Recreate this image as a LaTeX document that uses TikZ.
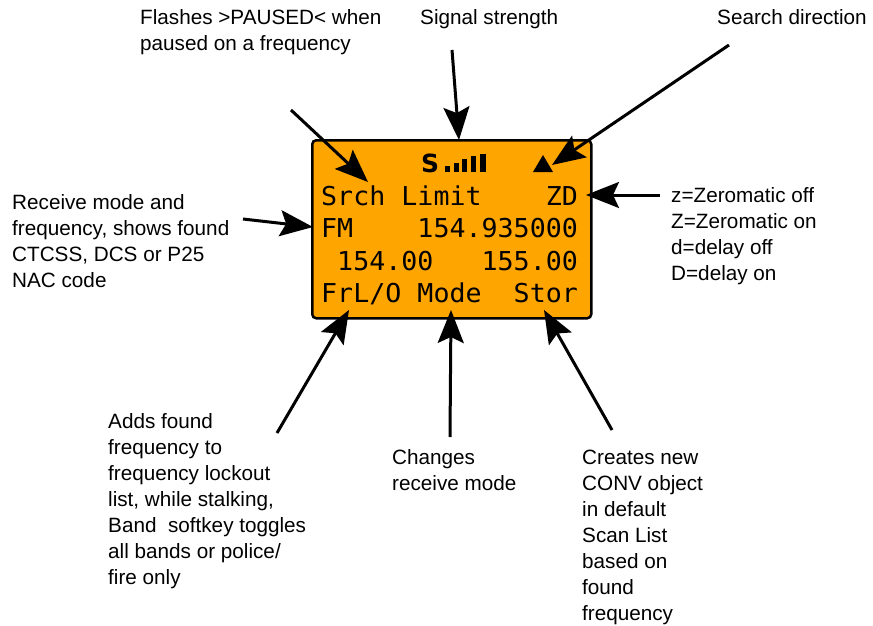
\documentclass[tikz,border=0pt]{standalone}
\usepackage{fontspec}
\setmainfont{Liberation Sans}
\newfontfamily\lcdfont[FakeStretch=1.025]{DejaVu Sans Mono}
\newfontfamily\sigfont{DejaVu Sans}
\usetikzlibrary{arrows.meta}
\definecolor{lcdorange}{RGB}{255,165,0}
\begin{document}
\begin{tikzpicture}[x=1pt,y=-1pt,
  lbl/.style={font=\fontsize{20.7}{26}\selectfont, align=left, anchor=north west, inner sep=0pt},
  lcdtxt/.style={font=\lcdfont\fontsize{26}{30}\selectfont, anchor=base west, inner sep=0pt},
  pointer/.style={line width=3pt, -{Stealth[length=33pt,width=26pt,inset=6pt]}},
]
\useasboundingbox (0,0) rectangle (873,626);
% display
\node[draw, line width=2.5pt, fill=lcdorange, rounded corners=4pt,
      minimum width=279pt, minimum height=178pt, inner sep=0pt, anchor=north west] (lcd) at (311,139) {};
\node[lcdtxt] (l1) at (321,205) {Srch~Limit~~~~ZD};
\node[lcdtxt] (l2) at (321,237) {FM~~~~154.935000};
\node[lcdtxt] (l3) at (321,270) {~154.00~~~155.00};
\node[lcdtxt] (l4) at (321,302) {FrL/O~Mode~~Stor};
% signal icon
\node[font=\sigfont\bfseries\fontsize{25}{25}\selectfont, anchor=base west, inner sep=0pt] (sig) at (421,172.5) {S};
\fill (445,172) rectangle ++(5,-6);
\fill (453.5,172) rectangle ++(5,-9.5);
\fill (462,172) rectangle ++(5,-13);
\fill (470.5,172) rectangle ++(5,-16);
\fill (479.5,172) rectangle ++(6,-18);
\fill (533,172) -- (553,172) -- (543,155) -- cycle;
% labels
\node[lbl] (paused) at (140,6) {\strut Flashes >PAUSED< when\\paused on a frequency};
\node[lbl] (signal) at (420,6) {\strut Signal strength};
\node[lbl] (search) at (717,6) {\strut Search direction};
\node[lbl] (recv) at (12,191) {\strut Receive mode and\\frequency, shows found\\CTCSS, DCS or P25\\NAC code};
\node[lbl] (zero) at (671,184) {\strut z=Zeromatic off\\Z=Zeromatic on\\d=delay off\\D=delay on};
\node[lbl] (adds) at (108,410) {\strut Adds found\\frequency to\\frequency lockout\\list, while stalking,\\Band\ \ softkey toggles\\all bands or police/\\fire only};
\node[lbl] (changes) at (392,446) {\strut Changes\\receive mode};
\node[lbl] (creates) at (582,446) {\strut Creates new\\CONV object\\in default\\Scan List\\based on\\found\\frequency};
% connector ends
\coordinate (pausedTail) at (291,110);
\coordinate (pausedTip) at (368,182);
\coordinate (sigTail) at (452,50);
\coordinate (sigTip) at (459,140);
\coordinate (dirTail) at (729,45);
\coordinate (dirTip) at (552,165);
\coordinate (zdTail) at (660,195);
\coordinate (zdTip) at (586,195);
\coordinate (fmTail) at (243,219);
\coordinate (fmTip) at (313,227);
\coordinate (frlTail) at (277,433);
\coordinate (frlTip) at (349,310);
\coordinate (modeTail) at (450,437);
\coordinate (modeTip) at (451,310);
\coordinate (storTail) at (612,430);
\coordinate (storTip) at (544,310);
% connectors
\draw[pointer] (pausedTail) -- (pausedTip);
\draw[pointer] (sigTail) -- (sigTip);
\draw[pointer] (dirTail) -- (dirTip);
\draw[pointer] (zdTail) -- (zdTip);
\draw[pointer] (fmTail) -- (fmTip);
\draw[pointer] (frlTail) -- (frlTip);
\draw[pointer] (modeTail) -- (modeTip);
\draw[pointer] (storTail) -- (storTip);
\end{tikzpicture}
\end{document}
